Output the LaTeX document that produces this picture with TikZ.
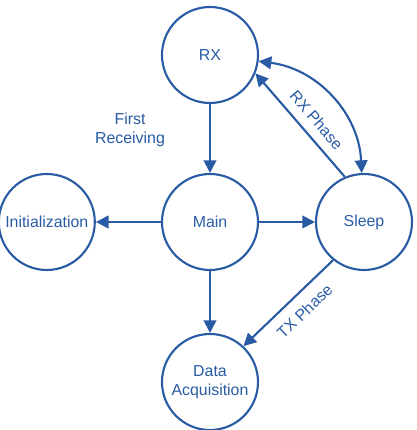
\documentclass[tikz,border=0pt]{standalone}
\usepackage{fontspec}
\setmainfont{Liberation Sans}
\usetikzlibrary{arrows.meta}
\definecolor{stateblue}{RGB}{41,91,165}

\begin{document}
\begin{tikzpicture}[
  state/.style={draw=stateblue, circle, line width=1.5pt, minimum size=2.4cm, text=stateblue, align=center, font=\fontsize{11.3}{13.5}\selectfont},
  link/.style={draw=stateblue, line width=1.5pt, -{Triangle[length=9pt,width=9pt]}},
  tag/.style={text=stateblue, align=center, font=\fontsize{11.3}{13.5}\selectfont}]
  \useasboundingbox (0,0) rectangle (10.4,10.75);

  \node[state] (rx) at (5.25,9.375) {RX};
  \node[state] (main) at (5.25,5.2) {Main};
  \node[state] (init) at (1.17,5.2) {Initialization};
  \node[state] (sleep) at (9.1,5.2) {Sleep};
  \node[state] (daq) at (5.25,1.2) {Data\\Acquisition};

  \draw[link] (rx) -- (main);
  \node[tag] (first) at (3.25,7.5) {First\\Receiving};

  \draw[link] (main) -- (init);
  \draw[link] (main) -- (sleep);
  \draw[link] (main) -- (daq);

  \draw[link] (sleep.113) -- node[tag, pos=0.45, sloped, above=3pt] (rxphase) {RX Phase} (rx.-22);
  \draw[link, {Triangle[length=9pt,width=9pt]}-{Triangle[length=9pt,width=9pt]}] (rx) to[bend left=40] (sleep);
  \draw[link] (sleep.231) -- node[tag, pos=0.45, sloped, below=4pt] (txphase) {TX Phase} (daq.47);

\end{tikzpicture}
\end{document}
